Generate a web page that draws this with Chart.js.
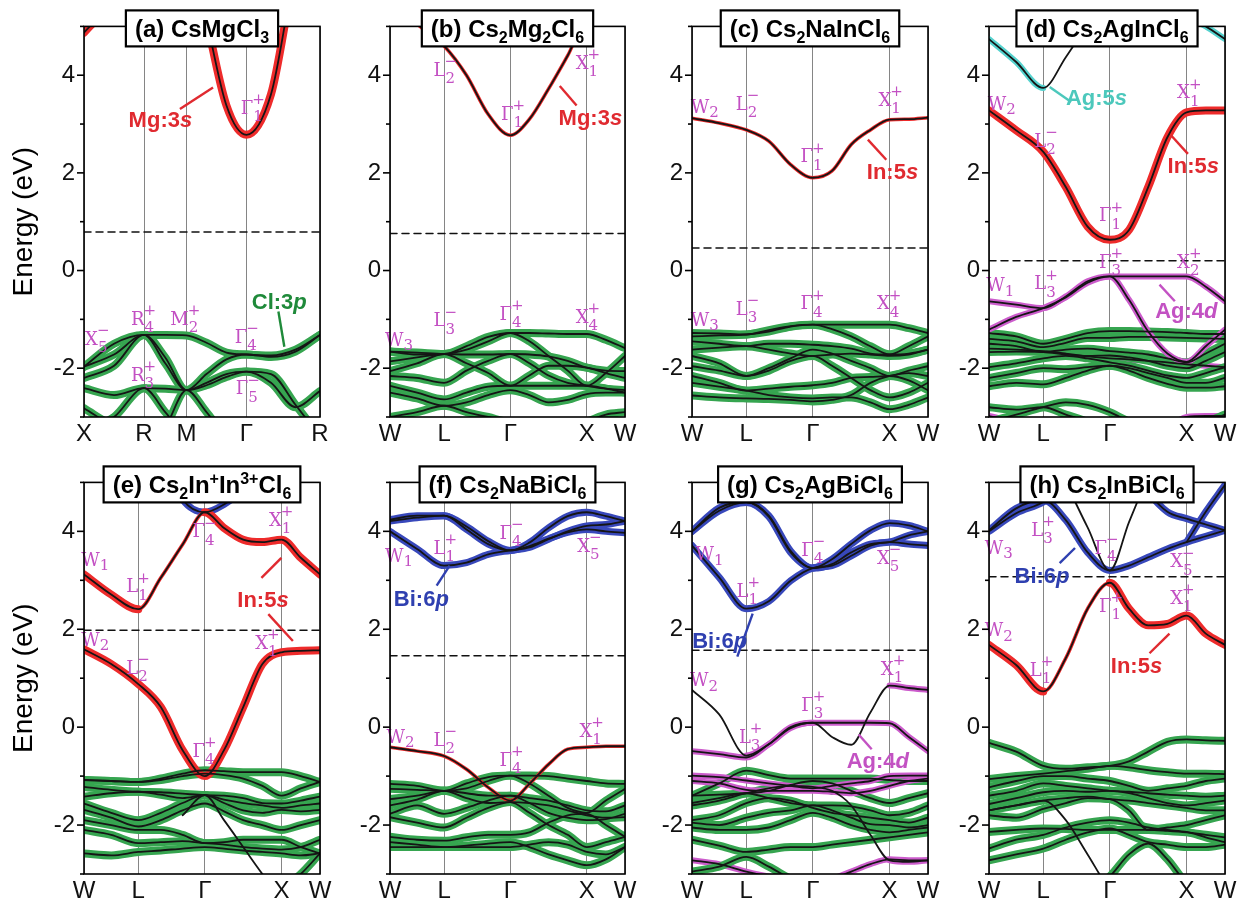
<!DOCTYPE html>
<html>
<head>
<meta charset="utf-8">
<script src="https://cdn.jsdelivr.net/npm/chart.js@4.4.1/dist/chart.umd.min.js"></script>
<style>
  body { margin: 0; background: #fff; width: 1241px; height: 905px; position: relative; overflow: hidden; }
  canvas { position: absolute; }
</style>
</head>
<body>
<script>
// k-path grids (cumulative distance, 2pi/a units)
const kCubic = [0, 0.354, 0.707, 0.957, 1.207, 1.443, 1.678, 1.914, 2.203, 2.491, 2.780];
const kFcc = [0, 0.354, 0.707, 1.0, 1.284, 1.573, 1.823, 2.073, 2.323, 2.573, 2.823, 3.073];
const symCubic = [0, 0.707, 1.207, 1.914, 2.780];
const symFcc = [0, 0.707, 1.573, 2.573, 3.073];
const namesCubic = ['X', 'R', 'M', 'Γ', 'R'];
const namesFcc = ['W', 'L', 'Γ', 'X', 'W'];

const titles = ['(a) CsMgCl_3', '(b) Cs_2Mg_2Cl_6', '(c) Cs_2NaInCl_6', '(d) Cs_2AgInCl_6',
  '(e) Cs_2In^+In^{3+}Cl_6', '(f) Cs_2NaBiCl_6', '(g) Cs_2AgBiCl_6', '(h) Cs_2InBiCl_6'];
const fermiLevels = [0.79, 0.76, 0.46, 0.20, 1.98, 1.46, 1.57, 3.07];

// (a) CsMgCl3
const bandsA = [
  [4.87, 5.6, 7.0, 7.0, 7.0, 5.14, 3.38, 2.78, 3.61, 6.1, 7.0],
  [-1.97, -1.50, -1.32, -1.32, -1.33, -1.48, -1.68, -1.72, -1.74, -1.62, -1.32],
  [-1.97, -1.72, -1.32, -1.78, -2.45, -2.12, -1.82, -1.72, -1.77, -1.66, -1.32],
  [-2.20, -1.95, -1.32, -1.90, -2.45, -2.30, -2.12, -2.07, -2.12, -2.75, -3.40],
  [-2.41, -2.55, -2.41, -2.42, -2.45, -2.35, -2.18, -2.07, -2.30, -2.80, -2.47],
  [-2.82, -3.20, -3.50, -3.20, -2.45, -2.90, -3.40, -3.50, -3.50, -3.50, -3.50],
  [-3.30, -3.00, -2.41, -2.90, -3.40, -3.50, -3.50, -3.50, -3.50, -3.50, -3.50]
];
const colsA = ['r', 'g', 'g', 'g', 'g', 'g', 'g'];
const labelsA = [['Γ', '1', '+', 1.97, 3.3], ['R', '4', '+', 0.69, -1.01], ['M', '2', '+', 1.21, -1.01],
  ['X', '5', '-', 0.14, -1.42], ['Γ', '4', '-', 1.9, -1.39], ['R', '3', '+', 0.69, -2.17], ['Γ', '5', '-', 1.91, -2.44]];
const notesA = [['Mg:3', 's', 'r', 0.9, 3.07, 1.13, 3.31, 1.52, 3.75], ['Cl:3', 'p', 'g', 2.3, -0.67, 2.29, -0.84, 2.36, -1.56]];

// (b) Cs2Mg2Cl6
const bandsB = [
  [5.6, 5.05, 4.6, 4.0, 3.2, 2.77, 3.1, 3.72, 4.4, 5.1, 5.05, 5.3],
  [-1.66, -1.68, -1.71, -1.55, -1.36, -1.28, -1.28, -1.29, -1.30, -1.30, -1.42, -1.59],
  [-1.66, -1.72, -1.71, -1.62, -1.45, -1.28, -1.45, -1.75, -2.05, -2.36, -2.10, -1.75],
  [-1.86, -1.78, -1.71, -1.72, -1.72, -1.71, -1.72, -1.76, -1.85, -1.99, -2.05, -2.06],
  [-2.06, -1.90, -1.71, -1.90, -2.10, -2.36, -2.15, -1.95, -1.95, -1.99, -2.10, -2.20],
  [-2.16, -2.20, -2.30, -2.05, -1.85, -1.71, -1.90, -2.15, -2.30, -2.36, -2.42, -2.45],
  [-2.36, -2.50, -2.64, -2.50, -2.38, -2.36, -2.36, -2.36, -2.36, -2.36, -2.42, -2.50],
  [-2.50, -2.62, -2.77, -2.70, -2.55, -2.45, -2.55, -2.70, -2.65, -2.53, -2.50, -2.50],
  [-3.00, -2.90, -2.77, -2.90, -3.00, -3.10, -3.10, -3.20, -3.30, -3.10, -2.95, -2.90]
];
const colsB = ['R', 'g', 'g', 'g', 'g', 'g', 'g', 'g', 'g'];
const labelsB = [['L', '2', '-', 0.70, 4.09], ['X', '1', '+', 2.57, 4.22], ['Γ', '1', '+', 1.59, 3.18],
  ['W', '3', '', 0.15, -1.45], ['L', '3', '-', 0.70, -1.05], ['Γ', '4', '+', 1.57, -0.91], ['X', '4', '+', 2.57, -0.98]];
const notesB = [['Mg:3', 's', 'r', 2.62, 3.11, 2.22, 3.78, 2.44, 3.38]];

// (c) Cs2NaInCl6
const bandsC = [
  [3.12, 3.02, 2.88, 2.65, 2.17, 1.90, 2.04, 2.58, 2.88, 3.09, 3.10, 3.13],
  [-1.28, -1.29, -1.31, -1.22, -1.14, -1.11, -1.11, -1.11, -1.11, -1.11, -1.18, -1.28],
  [-1.35, -1.33, -1.31, -1.25, -1.15, -1.11, -1.20, -1.35, -1.55, -1.72, -1.55, -1.35],
  [-1.45, -1.50, -1.55, -1.50, -1.50, -1.52, -1.55, -1.60, -1.70, -1.72, -1.70, -1.62],
  [-1.62, -1.58, -1.55, -1.62, -1.70, -1.75, -1.72, -1.70, -1.72, -1.75, -1.72, -1.62],
  [-1.75, -1.90, -2.16, -2.00, -1.80, -1.62, -1.70, -1.85, -2.00, -2.16, -2.05, -1.96],
  [-1.96, -2.05, -2.16, -2.05, -1.85, -1.75, -1.95, -2.20, -2.45, -2.60, -2.50, -2.30],
  [-2.16, -2.30, -2.46, -2.42, -2.38, -2.35, -2.30, -2.20, -2.18, -2.16, -2.25, -2.45],
  [-2.30, -2.38, -2.46, -2.55, -2.60, -2.62, -2.60, -2.60, -2.70, -2.84, -2.75, -2.60],
  [-2.56, -2.60, -2.62, -2.63, -2.65, -2.68, -2.65, -2.55, -2.30, -2.16, -2.10, -2.16]
];
const colsC = ['R', 'g', 'g', 'g', 'g', 'g', 'g', 'g', 'g', 'g'];
const labelsC = [['W', '2', '', 0.2, 3.32], ['L', '2', '-', 0.7, 3.39], ['Γ', '1', '+', 1.55, 2.31], ['X', '1', '+', 2.57, 3.46],
  ['W', '3', '', 0.2, -1.04], ['L', '3', '-', 0.7, -0.81], ['Γ', '4', '+', 1.55, -0.7], ['X', '4', '+', 2.55, -0.7]];
const notesC = [['In:5', 's', 'r', 2.61, 2.0, 2.29, 2.68, 2.53, 2.27]];

// (d) Cs2AgInCl6
const bandsD = [
  [4.74, 4.27, 3.74, 4.37, 5.05, 5.8, 6.0, 6.0, 5.6, 5.2, 5.0, 4.74],
  [3.28, 2.87, 2.43, 1.71, 0.90, 0.63, 0.83, 1.71, 2.73, 3.24, 3.28, 3.28],
  [-0.63, -0.70, -0.77, -0.53, -0.22, -0.12, -0.12, -0.12, -0.12, -0.12, -0.33, -0.63],
  [-1.21, -0.95, -0.77, -0.55, -0.25, -0.12, -0.60, -1.25, -1.70, -1.87, -1.55, -1.21],
  [-1.28, -1.35, -1.50, -1.40, -1.28, -1.24, -1.24, -1.25, -1.26, -1.28, -1.30, -1.30],
  [-1.40, -1.45, -1.57, -1.48, -1.38, -1.38, -1.36, -1.36, -1.37, -1.38, -1.39, -1.40],
  [-1.50, -1.55, -1.67, -1.62, -1.60, -1.65, -1.68, -1.72, -1.80, -1.88, -1.70, -1.50],
  [-1.67, -1.66, -1.67, -1.72, -1.75, -1.74, -1.78, -1.85, -1.95, -2.00, -1.85, -1.67],
  [-1.98, -1.90, -1.80, -1.75, -1.80, -1.88, -1.95, -2.05, -2.15, -2.20, -2.10, -1.98],
  [-2.20, -2.10, -2.00, -2.02, -1.98, -1.95, -2.00, -2.10, -2.20, -2.30, -2.30, -2.20],
  [-2.37, -2.30, -2.33, -2.20, -2.05, -1.95, -2.05, -2.20, -2.32, -2.40, -2.40, -2.37],
  [-2.80, -2.85, -2.80, -2.95, -3.10, -3.30, -3.30, -3.30, -3.30, -3.20, -3.10, -2.95],
  [-3.10, -2.95, -2.80, -2.70, -2.75, -2.90, -3.10, -3.30, -3.30, -3.30, -3.30, -3.20],
  [-1.60, -1.62, -1.65, -1.70, -1.76, -1.80, -1.82, -1.85, -1.88, -1.92, -1.95, -1.98],
  [-2.98, -3.10, -3.30, -3.30, -3.30, -3.30, -3.30, -3.30, -3.20, -3.00, -2.98, -2.98]
];
const colsD = ['cc-------cc', 'r', 'm', 'm', 'g', 'g', 'g', 'g', 'g', 'g', 'g', 'g', 'g', 'm', 'm'];
const labelsD = [['W', '2', '', 0.2, 3.38], ['L', '2', '-', 0.72, 2.63], ['X', '1', '+', 2.59, 3.62], ['Γ', '1', '+', 1.57, 1.1],
  ['Γ', '3', '+', 1.57, 0.15], ['X', '2', '+', 2.59, 0.15], ['W', '1', '', 0.18, -0.33], ['L', '3', '+', 0.72, -0.29]];
const notesD = [['Ag:5', 's', 'c', 1.4, 3.52, 0.79, 3.76, 1.07, 3.45], ['In:5', 's', 'r', 2.66, 2.12, 2.37, 2.77, 2.59, 2.39],
  ['Ag:4', 'd', 'm', 2.57, -0.84, 2.22, -0.29, 2.42, -0.63]];

// (e) Cs2In+In3+Cl6
const bandsE = [
  [3.12, 2.71, 2.41, 3.05, 3.73, 4.39, 4.07, 3.83, 3.78, 3.83, 3.46, 3.12],
  [6.0, 6.0, 6.0, 5.6, 4.65, 4.39, 4.55, 4.85, 5.3, 5.6, 5.6, 5.6],
  [1.59, 1.29, 0.88, 0.41, -0.47, -1.00, -0.47, 0.41, 1.29, 1.53, 1.56, 1.57],
  [-1.08, -1.10, -1.12, -1.05, -0.95, -0.88, -0.90, -0.92, -0.92, -0.92, -1.00, -1.12],
  [-1.08, -1.10, -1.12, -1.08, -1.00, -0.95, -0.98, -1.05, -1.20, -1.40, -1.25, -1.12],
  [-1.22, -1.28, -1.32, -1.33, -1.36, -1.39, -1.40, -1.45, -1.55, -1.56, -1.50, -1.42],
  [-1.42, -1.35, -1.32, -1.38, -1.45, -1.39, -1.48, -1.55, -1.60, -1.65, -1.60, -1.56],
  [-1.56, -1.75, -1.90, -1.75, -1.55, -1.39, -1.55, -1.70, -1.75, -1.69, -1.72, -1.69],
  [-1.69, -1.85, -2.03, -1.90, -1.70, -1.56, -1.72, -1.90, -2.00, -2.10, -2.00, -1.90],
  [-1.90, -2.00, -2.10, -2.10, -2.20, -2.37, -2.35, -2.30, -2.30, -2.30, -2.45, -2.58],
  [-2.10, -2.20, -2.37, -2.35, -2.33, -2.37, -2.40, -2.45, -2.48, -2.50, -2.45, -2.30],
  [-2.58, -2.62, -2.55, -2.52, -2.48, -2.45, -2.48, -2.52, -2.55, -2.58, -2.62, -2.58],
  [null, null, null, null, -1.80, -1.39, -1.90, -2.45, -3.00, -3.50, null, null],
  [null, null, null, null, null, null, null, null, null, -3.30, -3.00, -2.58]
];
const colsE = ['rrRRRrrrrrr', 'b', 'r', 'g', 'g', 'g', 'g', 'g', 'g', 'g', 'g', 'g', '-', 'g'];
const labelsE = [['W', '1', '', 0.18, 3.39], ['L', '1', '+', 0.68, 2.85], ['Γ', '4', '-', 1.55, 3.97], ['X', '1', '+', 2.55, 4.2],
  ['W', '2', '', 0.18, 1.76], ['X', '1', '+', 2.37, 1.69], ['L', '2', '-', 0.68, 1.19], ['Γ', '4', '+', 1.55, -0.51]];
const notesE = [['In:5', 's', 'r', 2.33, 2.58, 2.31, 3.05, 2.57, 3.46], ['', '', 'r', 2.33, 2.58, 2.40, 2.31, 2.72, 1.76]];

// (f) Cs2NaBiCl6
const bandsF = [
  [4.24, 4.32, 4.32, 4.04, 3.74, 3.61, 3.77, 4.07, 4.31, 4.39, 4.31, 4.21],
  [4.00, 3.64, 3.30, 3.36, 3.53, 3.61, 3.67, 3.84, 4.00, 4.11, 4.14, 4.21],
  [4.21, 4.28, 4.32, 4.10, 3.80, 3.61, 3.70, 3.85, 3.98, 4.04, 4.00, 3.97],
  [-0.41, -0.49, -0.59, -0.86, -1.23, -1.50, -1.16, -0.76, -0.45, -0.41, -0.39, -0.39],
  [-1.16, -1.20, -1.30, -1.15, -1.02, -0.99, -0.99, -1.00, -1.05, -1.10, -1.15, -1.16],
  [-1.26, -1.28, -1.30, -1.25, -1.10, -0.99, -1.15, -1.40, -1.65, -1.75, -1.50, -1.26],
  [-1.47, -1.40, -1.30, -1.35, -1.40, -1.40, -1.45, -1.50, -1.60, -1.70, -1.72, -1.60],
  [-1.60, -1.48, -1.30, -1.45, -1.55, -1.53, -1.55, -1.60, -1.70, -1.80, -1.85, -1.84],
  [-1.77, -1.60, -1.77, -1.65, -1.50, -1.40, -1.55, -1.75, -1.85, -1.90, -1.88, -1.77],
  [-1.84, -1.95, -2.05, -1.85, -1.65, -1.53, -1.75, -2.00, -2.20, -2.45, -2.35, -2.24],
  [-2.24, -2.30, -2.32, -2.25, -2.20, -2.20, -2.15, -1.95, -1.80, -1.77, -2.00, -2.24],
  [-2.35, -2.40, -2.45, -2.42, -2.38, -2.35, -2.45, -2.60, -2.72, -2.82, -2.70, -2.45],
  [-2.45, -2.45, -2.45, -2.45, -2.45, -2.45, -2.40, -2.35, -2.40, -2.55, -2.60, -2.45]
];
const colsF = ['b', 'b', 'b', 'R', 'g', 'g', 'g', 'g', 'g', 'g', 'g', 'g', 'g'];
const labelsF = [['W', '1', '', 0.15, 3.47], ['L', '1', '+', 0.7, 3.64], ['Γ', '4', '-', 1.57, 3.94], ['X', '5', '-', 2.59, 3.67],
  ['W', '2', '', 0.17, -0.22], ['L', '2', '-', 0.7, -0.28], ['Γ', '4', '+', 1.57, -0.69], ['X', '1', '+', 2.62, -0.11]];
const notesF = [['Bi:6', 'p', 'b', 0.41, 2.59, 0.61, 2.89, 0.78, 3.3]];

// (g) Cs2AgBiCl6
const bandsG = [
  [4.00, 4.42, 4.59, 4.30, 3.57, 3.25, 3.43, 3.74, 4.02, 4.17, 4.12, 4.00],
  [4.00, 4.48, 4.60, 4.32, 3.60, 3.25, 3.33, 3.57, 3.74, 3.78, 3.92, 4.00],
  [3.71, 3.06, 2.42, 2.57, 2.99, 3.25, 3.30, 3.50, 3.71, 3.78, 3.74, 3.71],
  [-0.49, -0.55, -0.62, -0.35, -0.02, 0.09, 0.09, 0.09, 0.09, 0.08, -0.20, -0.49],
  [0.76, 0.26, -0.58, -0.35, 0.00, 0.09, -0.20, -0.36, 0.30, 0.85, 0.80, 0.76],
  [-0.99, -1.02, -1.09, -1.15, -1.20, -1.25, -1.20, -1.15, -1.10, -1.00, -0.99, -0.99],
  [-1.10, -1.15, -1.28, -1.30, -1.30, -1.30, -1.32, -1.35, -1.30, -1.20, -1.10, -1.05],
  [-1.40, -1.15, -0.89, -0.98, -1.05, -1.05, -1.05, -1.05, -1.05, -1.08, -1.10, -1.10],
  [-1.40, -1.38, -1.35, -1.30, -1.18, -1.10, -1.15, -1.30, -1.45, -1.55, -1.45, -1.35],
  [-1.55, -1.45, -1.35, -1.45, -1.55, -1.60, -1.60, -1.62, -1.70, -1.80, -1.75, -1.60],
  [-1.90, -1.80, -1.55, -1.45, -1.50, -1.65, -1.75, -1.80, -1.85, -1.90, -1.95, -1.85],
  [-1.95, -2.00, -1.85, -1.75, -1.70, -1.60, -1.70, -1.85, -1.98, -2.00, -2.05, -2.00],
  [-2.05, -2.10, -2.10, -2.05, -1.90, -1.75, -1.85, -2.00, -2.10, -2.15, -2.10, -2.05],
  [-2.30, -2.42, -2.55, -2.50, -2.45, -2.45, -2.40, -2.35, -2.30, -2.25, -2.20, -2.15],
  [-2.95, -2.85, -2.65, -2.85, -3.10, -3.30, -3.30, -3.30, -3.30, -3.30, -3.30, -3.30],
  [-1.60, -1.50, -1.35, -1.25, -1.20, -1.22, -1.30, -1.60, -2.20, -2.72, -2.75, -2.72],
  [-2.72, -2.80, -2.95, -3.05, -3.10, -3.20, -3.10, -2.95, -2.80, -2.70, -2.72, -2.72]
];
const colsG = ['b', 'b', 'b', 'm', '--mmm----mm', 'm', 'm', 'g', 'g', 'g', 'g', 'g', 'g', 'g', 'g', 'gggggg---mm', 'm'];
const labelsG = [['W', '1', '', 0.26, 3.5], ['L', '1', '+', 0.71, 2.76], ['Γ', '4', '-', 1.56, 3.6], ['X', '5', '-', 2.55, 3.43],
  ['W', '2', '', 0.19, 0.93], ['X', '1', '+', 2.6, 1.17], ['Γ', '3', '+', 1.56, 0.43], ['L', '3', '+', 0.74, -0.22]];
const notesG = [['Bi:6', 'p', 'b', 0.36, 1.74, 0.59, 1.44, 0.79, 2.32], ['Ag:4', 'd', 'm', 2.42, -0.72, 2.17, -0.15, 2.34, -0.45]];

// (h) Cs2InBiCl6
const bandsH = [
  [4.02, 4.47, 4.64, 4.23, 3.57, 3.20, 3.30, 3.47, 3.64, 3.78, 3.90, 4.02],
  [4.00, 4.37, 4.60, 4.95, 5.40, 5.60, 5.40, 4.80, 4.40, 4.26, 4.14, 4.02],
  [null, null, null, null, null, null, null, null, null, 3.78, 4.40, 4.95],
  [null, null, null, 5.00, 4.08, 3.20, 4.19, 5.14, null, null, null, null],
  [1.68, 1.27, 0.73, 1.41, 2.42, 2.95, 2.42, 2.08, 2.11, 2.28, 1.91, 1.68],
  [-0.32, -0.50, -0.79, -0.85, -0.82, -0.79, -0.70, -0.50, -0.30, -0.25, -0.27, -0.28],
  [-1.06, -1.00, -0.95, -0.90, -0.85, -0.79, -0.82, -0.88, -0.92, -0.95, -0.95, -0.96],
  [-1.23, -1.10, -1.00, -1.00, -1.05, -1.10, -1.20, -1.30, -1.25, -1.20, -1.10, -1.05],
  [-1.40, -1.30, -1.15, -1.20, -1.25, -1.30, -1.32, -1.35, -1.38, -1.40, -1.42, -1.40],
  [-1.57, -1.45, -1.33, -1.30, -1.32, -1.30, -1.35, -1.45, -1.55, -1.60, -1.55, -1.50],
  [-1.70, -1.60, -1.50, -1.45, -1.42, -1.47, -1.50, -1.55, -1.60, -1.65, -1.70, -1.70],
  [-1.80, -1.85, -1.67, -1.55, -1.45, -1.47, -1.70, -2.10, -2.05, -2.00, -1.90, -1.80],
  [-2.14, -2.10, -2.07, -2.08, -2.10, -2.10, -2.10, -2.10, -2.12, -2.15, -2.20, -2.25],
  [-2.48, -2.30, -2.20, -2.05, -1.95, -1.90, -1.95, -2.05, -2.10, -2.14, -2.25, -2.35],
  [-2.72, -2.60, -2.48, -2.30, -2.15, -2.07, -2.20, -2.35, -2.40, -2.45, -2.45, -2.40],
  [-3.50, -3.50, -3.30, -3.20, -3.40, -3.05, -2.60, -2.38, -2.70, -3.20, -3.50, -3.50],
  [-1.70, -1.60, -1.50, -1.90, -2.60, -3.30, -3.50, -3.50, -3.50, -3.50, -3.50, -3.50]
];
const colsH = ['b', 'b', 'b', '-', 'rrRRRrrrrrr', 'g', 'g', 'g', 'g', 'g', 'g', 'g', 'g', 'g', 'g', 'g', '-'];
const labelsH = [['L', '3', '+', 0.68, 4.0], ['W', '3', '', 0.16, 3.64], ['Γ', '4', '-', 1.51, 3.64], ['X', '5', '-', 2.5, 3.36],
  ['Γ', '1', '+', 1.57, 2.45], ['X', '1', '+', 2.5, 2.62], ['W', '2', '', 0.16, 1.95], ['L', '1', '+', 0.66, 1.14]];
const notesH = [['Bi:6', 'p', 'b', 0.69, 3.06, 0.92, 3.35, 1.12, 3.66], ['In:5', 's', 'r', 1.92, 1.22, 2.09, 1.51, 2.35, 1.91]];

const colLeft = [84, 390, 692, 989];
const colRight = [320, 625, 928, 1225];
const rowTop = [23, 479];
const rowBottom = [417, 874];

const HUES = { g: '#36a550', r: '#ee2b2b', b: '#3848bb', c: '#55d2ce', m: '#cc5ccc' };
const TEXTHUES = { g: '#1f8a3a', r: '#e02a30', b: '#2f40b0', c: '#4cc8bc', m: '#c352c3' };
const FAT = { g: 8, r: 8, b: 7, c: 6, m: 6 };
const IRREP = '#c350c3';
const SANS = '"Liberation Sans", Arial, sans-serif';
const SERIF = '"DejaVu Serif", "Liberation Serif", serif';

const panels = [
  [kCubic, symCubic, namesCubic, bandsA, colsA, labelsA, notesA],
  [kFcc, symFcc, namesFcc, bandsB, colsB, labelsB, notesB],
  [kFcc, symFcc, namesFcc, bandsC, colsC, labelsC, notesC],
  [kFcc, symFcc, namesFcc, bandsD, colsD, labelsD, notesD],
  [kFcc, symFcc, namesFcc, bandsE, colsE, labelsE, notesE],
  [kFcc, symFcc, namesFcc, bandsF, colsF, labelsF, notesF],
  [kFcc, symFcc, namesFcc, bandsG, colsG, labelsG, notesG],
  [kFcc, symFcc, namesFcc, bandsH, colsH, labelsH, notesH]
];

function segChar(spec, i) {
  return spec.length === 1 ? spec : (spec[i] || '-');
}

function makeDatasets(k, bands, cols, ef) {
  const sets = [];
  bands.forEach(function (e, i) {
    const pts = k.map((x, j) => ({ x: x, y: e[j] }));
    const spec = cols[i] || '-';
    if (/[a-zA-Z]/.test(spec)) {
      sets.push({
        data: pts, order: 2, borderColor: 'rgba(0,0,0,0)', borderWidth: 7,
        segment: {
          borderColor: c => {
            const ch = segChar(spec, c.p0DataIndex);
            return ch === '-' ? 'rgba(0,0,0,0)' : HUES[ch.toLowerCase()];
          },
          borderWidth: c => {
            const ch = segChar(spec, c.p0DataIndex);
            if (ch === '-') return 0;
            return ch === ch.toLowerCase() ? FAT[ch] : 3.5;
          }
        }
      });
    }
    sets.push({ data: pts, order: 1, borderColor: '#151515', borderWidth: 1.8 });
  });
  sets.push({
    data: [{ x: k[0], y: ef }, { x: k[k.length - 1], y: ef }],
    order: 0, borderColor: '#111', borderWidth: 1.5, borderDash: [7, 5], cubicInterpolationMode: 'default', tension: 0
  });
  return sets;
}

function richParts(s) {
  const out = [];
  const re = /([_^])(\{([^}]*)\}|(.))/g;
  let last = 0, m;
  while ((m = re.exec(s))) {
    if (m.index > last) out.push([s.slice(last, m.index), 0]);
    out.push([m[3] !== undefined ? m[3] : m[4], m[1] === '_' ? 1 : -1]);
    last = re.lastIndex;
  }
  if (last < s.length) out.push([s.slice(last), 0]);
  return out;
}

function drawIrrep(ctx, x, y, letter, sub, sup) {
  ctx.fillStyle = IRREP;
  ctx.textBaseline = 'middle';
  ctx.font = '18px ' + SERIF;
  ctx.textAlign = 'right';
  ctx.fillText(letter, x + 2, y);
  ctx.font = '15px ' + SERIF;
  ctx.textAlign = 'left';
  if (sub) ctx.fillText(sub, x + 2, y + (sup ? 8 : 5));
  if (sup) ctx.fillText(sup === '-' ? '\u2212' : '+', x + 1, y - 9);
}

function decor(idx, labels, notes) {
  return {
    id: 'decor' + idx,
    afterDatasetsDraw(chart) {
      const ctx = chart.ctx, a = chart.chartArea, xs = chart.scales.x, ys = chart.scales.y;
      ctx.save();
      // pointer notes
      notes.forEach(function (n) {
        const col = TEXTHUES[n[2]];
        ctx.strokeStyle = col; ctx.lineWidth = 2.4;
        ctx.beginPath();
        ctx.moveTo(xs.getPixelForValue(n[5]), ys.getPixelForValue(n[6]));
        ctx.lineTo(xs.getPixelForValue(n[7]), ys.getPixelForValue(n[8]));
        ctx.stroke();
        if (n[0]) {
          ctx.fillStyle = col; ctx.textBaseline = 'middle'; ctx.textAlign = 'left';
          ctx.font = 'bold 22px ' + SANS;
          const w1 = ctx.measureText(n[0]).width;
          ctx.font = 'italic bold 22px ' + SANS;
          const w2 = ctx.measureText(n[1]).width;
          const x0 = xs.getPixelForValue(n[3]) - (w1 + w2) / 2, y0 = ys.getPixelForValue(n[4]);
          ctx.font = 'bold 22px ' + SANS;
          ctx.fillText(n[0], x0, y0);
          ctx.font = 'italic bold 22px ' + SANS;
          ctx.fillText(n[1], x0 + w1, y0);
        }
      });
      // irreducible representation labels
      labels.forEach(l => drawIrrep(ctx, xs.getPixelForValue(l[3]), ys.getPixelForValue(l[4]), l[0], l[1], l[2]));
      // frame
      ctx.strokeStyle = '#000'; ctx.lineWidth = 1.6;
      ctx.strokeRect(a.left, a.top, a.right - a.left, a.bottom - a.top);
      // y tick marks
      for (let v = -3; v <= 5; v++) {
        const y = ys.getPixelForValue(v), len = v % 2 === 0 ? 7 : 4;
        ctx.beginPath(); ctx.moveTo(a.left - len, y); ctx.lineTo(a.left, y); ctx.stroke();
      }
      // title box
      const parts = richParts(titles[idx]);
      let w = 0;
      parts.forEach(p => { ctx.font = 'bold ' + (p[1] ? 16 : 24) + 'px ' + SANS; w += ctx.measureText(p[0]).width; });
      const cx = (a.left + a.right) / 2, bw = w + 18;
      ctx.fillStyle = '#fff';
      ctx.fillRect(cx - bw / 2, a.top - 16, bw, 36);
      ctx.lineWidth = 2.2; ctx.strokeStyle = '#000';
      ctx.strokeRect(cx - bw / 2, a.top - 16, bw, 36);
      ctx.fillStyle = '#000'; ctx.textAlign = 'left'; ctx.textBaseline = 'alphabetic';
      let x = cx - w / 2;
      parts.forEach(p => {
        ctx.font = 'bold ' + (p[1] ? 16 : 24) + 'px ' + SANS;
        ctx.fillText(p[0], x, a.top + 11 + (p[1] === 1 ? 6 : p[1] === -1 ? -9 : 0));
        x += ctx.measureText(p[0]).width;
      });
      // axis title on the left column
      if (idx % 4 === 0) {
        ctx.translate(a.left - 60, (a.top + a.bottom) / 2);
        ctx.rotate(-Math.PI / 2);
        ctx.font = '28px ' + SANS; ctx.fillStyle = '#000';
        ctx.textAlign = 'center'; ctx.textBaseline = 'middle';
        ctx.fillText('Energy (eV)', 0, 0);
      }
      ctx.restore();
    }
  };
}

panels.forEach(function (p, idx) {
  const [k, sym, names, bands, cols, labels, notes] = p;
  const L = colLeft[idx % 4], R = colRight[idx % 4];
  const T = rowTop[Math.floor(idx / 4)], B = rowBottom[Math.floor(idx / 4)];
  const cv = document.createElement('canvas');
  cv.width = R - L + 96; cv.height = B - T + 60;
  cv.style.left = (L - 80) + 'px'; cv.style.top = (T - 20) + 'px';
  cv.style.width = cv.width + 'px'; cv.style.height = cv.height + 'px';
  document.body.appendChild(cv);

  new Chart(cv.getContext('2d'), {
    type: 'line',
    data: { datasets: makeDatasets(k, bands, cols, fermiLevels[idx]) },
    options: {
      responsive: false,
      animation: false,
      events: [],
      clip: 0,
      layout: { padding: { left: 0, top: 20, right: 16, bottom: 0 } },
      elements: {
        point: { radius: 0 },
        line: { cubicInterpolationMode: 'monotone', borderCapStyle: 'round', borderJoinStyle: 'round' }
      },
      plugins: { legend: { display: false }, tooltip: { enabled: false } },
      scales: {
        x: {
          type: 'linear', min: 0, max: k[k.length - 1],
          afterFit: s => { s.height = 40; },
          afterBuildTicks: s => { s.ticks = sym.map(v => ({ value: v })); },
          ticks: {
            autoSkip: false, maxRotation: 0, padding: 3, color: '#111',
            font: { size: 24, family: SANS },
            callback: (v, i) => names[i]
          },
          grid: { color: '#858585', lineWidth: 1, drawTicks: false },
          border: { display: false }
        },
        y: {
          min: -3, max: 5,
          afterFit: s => { s.width = 80; },
          ticks: {
            stepSize: 1, padding: 9, color: '#111',
            font: { size: 24, family: SANS },
            callback: v => (v % 2 === 0 ? String(v) : '')
          },
          grid: { display: false, drawTicks: false },
          border: { display: false }
        }
      }
    },
    plugins: [decor(idx, labels, notes)]
  });
});
</script>
</body>
</html>
